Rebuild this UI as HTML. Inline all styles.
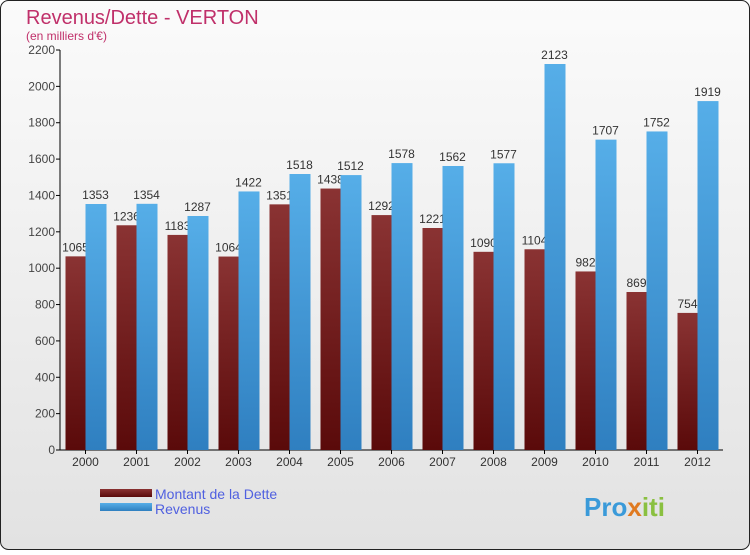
<!DOCTYPE html>
<html><head><meta charset="utf-8"><style>
body{margin:0;background:#fff}
#c{width:750px;height:550px;position:relative;font-family:"Liberation Sans",sans-serif}
</style></head><body>
<div id="c">
<svg id="s" width="750" height="550" xmlns="http://www.w3.org/2000/svg">
<defs>
<linearGradient id="bg" x1="0" y1="0" x2="0" y2="1"><stop offset="0" stop-color="#fbfbfb"/><stop offset="1" stop-color="#e2e2e2"/></linearGradient>
<linearGradient id="rd" x1="0" y1="0" x2="0" y2="1"><stop offset="0" stop-color="#8a3333"/><stop offset="1" stop-color="#5a0a0a"/></linearGradient>
<linearGradient id="bl" x1="0" y1="0" x2="0" y2="1"><stop offset="0" stop-color="#56aee8"/><stop offset="1" stop-color="#2f7fc0"/></linearGradient>
</defs>
<rect x="0.5" y="0.5" width="749" height="549" rx="8" fill="url(#bg)" stroke="#222"/>
<text x="26" y="24" font-size="20" fill="#c0306a">Revenus/Dette - VERTON</text>
<text x="26" y="40" font-size="12" fill="#c0306a">(en milliers d'€)</text>
<g id="ax"></g><g id="bars"></g>
<rect x="100" y="489" width="52" height="8" fill="url(#rd)"/>
<text x="155" y="499" font-size="14" fill="#5060e0">Montant de la Dette</text>
<rect x="100" y="503" width="52" height="8" fill="url(#bl)"/>
<text x="155" y="514" font-size="14" fill="#5060e0">Revenus</text>
<text x="584" y="516" font-size="26" font-weight="bold" fill="#3a9ad9">Pro<tspan fill="#e07a20">x</tspan><tspan fill="#8ac040">iti</tspan></text>
</svg>
</div>
<script>
const years=["2000","2001","2002","2003","2004","2005","2006","2007","2008","2009","2010","2011","2012"];
const dette=[1065,1236,1183,1064,1351,1438,1292,1221,1090,1104,982,869,754];
const revenus=[1353,1354,1287,1422,1518,1512,1578,1562,1577,2123,1707,1752,1919];
const yTicks=[0,200,400,600,800,1000,1200,1400,1600,1800,2000,2200];
const NS="http://www.w3.org/2000/svg";
const x0=60,band=51,yBase=450,yTop=50,yMax=2200;
const y=v=>yBase-(v/yMax)*(yBase-yTop);
const xc=i=>x0+band*i+band/2;
function mk(t,a,p){const e=document.createElementNS(NS,t);for(const k in a)e.setAttribute(k,a[k]);p.appendChild(e);return e;}
const ax=document.getElementById('ax'),bars=document.getElementById('bars');
const yl=mk('line',{x1:x0,y1:yTop,x2:x0,y2:yBase,stroke:'#000'},ax);


const xl=mk('line',{x1:x0,y1:yBase,x2:x0+band*years.length,y2:yBase,stroke:'#000'},ax);


yTicks.forEach(v=>{
  mk('line',{x1:x0-4,y1:y(v),x2:x0,y2:y(v),stroke:'#000'},ax);
  const t=mk('text',{x:x0-5,y:y(v)+4,'font-size':12,'text-anchor':'end',fill:'#444'},ax);
  t.textContent=v;
  
  
});
years.forEach((yr,i)=>{
  const c=xc(i);
  mk('line',{x1:c,y1:yBase,x2:c,y2:yBase+4,stroke:'#000'},ax);
  const t=mk('text',{x:c,y:yBase+16,'font-size':12,'text-anchor':'middle',fill:'#333'},ax);
  t.textContent=yr;
  
  
  const r=mk('rect',{x:c-20,y:y(dette[i]),width:20,height:yBase-y(dette[i]),fill:'url(#rd)'},bars);
  
  
  const lt=mk('text',{x:c-10,y:y(dette[i])-5,'font-size':12,'text-anchor':'middle',fill:'#333'},bars);
  lt.textContent=dette[i];
  
  
  const b=mk('rect',{x:c,y:y(revenus[i]),width:21,height:yBase-y(revenus[i]),fill:'url(#bl)'},bars);
  
  
  const bt=mk('text',{x:c+10,y:y(revenus[i])-5,'font-size':12,'text-anchor':'middle',fill:'#333'},bars);
  bt.textContent=revenus[i];
  
  
});
</script>
</body></html>
